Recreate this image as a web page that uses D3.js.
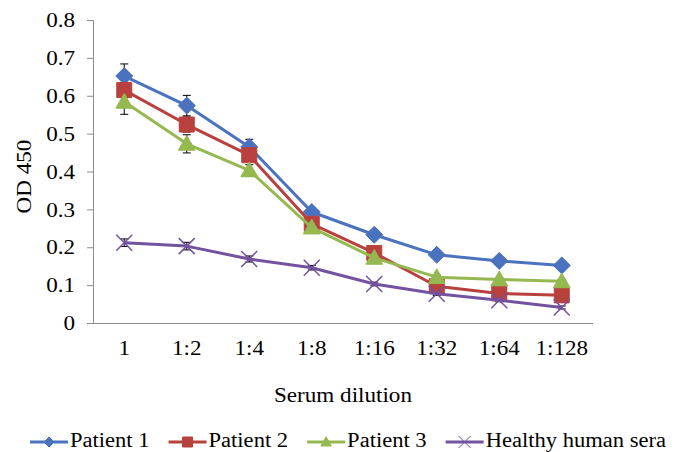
<!DOCTYPE html>
<meta charset="utf-8">
<script src="https://d3js.org/d3.v7.min.js"></script>
<style>
  body { margin: 0; background: #fff; }
</style>
<div id="my_dataviz"></div>
<script>

// data
var dilutions = ["1", "1:2", "1:4", "1:8", "1:16", "1:32", "1:64", "1:128"];
var yTicks = [0, 0.1, 0.2, 0.3, 0.4, 0.5, 0.6, 0.7, 0.8];

var patient1 = [0.652, 0.574, 0.465, 0.293, 0.233, 0.180, 0.164, 0.152];
var patient2 = [0.615, 0.524, 0.443, 0.262, 0.185, 0.097, 0.078, 0.073];
var patient3 = [0.584, 0.473, 0.403, 0.252, 0.172, 0.121, 0.115, 0.110];
var healthy  = [0.212, 0.203, 0.169, 0.146, 0.103, 0.077, 0.060, 0.041];

var err1 = [0.032, 0.027, 0.020, 0.012, 0.008, 0.006, 0.006, 0.005];
var err2 = [0.020, 0.020, 0.015, 0.010, 0.008, 0.005, 0.005, 0.004];
var err3 = [0.033, 0.024, 0.015, 0.010, 0.008, 0.006, 0.005, 0.005];
var errH = [0.010, 0.010, 0.008, 0.006, 0.005, 0.004, 0.004, 0.004];

var seriesNames = ["Patient 1", "Patient 2", "Patient 3", "Healthy human sera"];
var seriesColors = ["#4a72be", "#b8413e", "#95b950", "#7352a0"];
var seriesSymbols = ["diamond", "square", "triangle", "cross"];

var series = [
  {name: seriesNames[0], values: patient1, err: err1},
  {name: seriesNames[1], values: patient2, err: err2},
  {name: seriesNames[2], values: patient3, err: err3},
  {name: seriesNames[3], values: healthy,  err: errH}
];

var FONT = "'Liberation Serif', 'Times New Roman', serif";

// dimensions
var W = 693, H = 452;
var margin = {top: 20, right: 100, bottom: 129, left: 93},
    width = W - margin.left - margin.right,
    height = H - margin.top - margin.bottom;

var svg = d3.select("#my_dataviz")
  .append("svg")
    .attr("width", W)
    .attr("height", H)
    .style("font-family", FONT);

var g = svg.append("g")
    .attr("transform", "translate(" + margin.left + "," + margin.top + ")");

var x = d3.scaleBand()
  .domain(dilutions)
  .range([0, width]);

var y = d3.scaleLinear()
  .domain([0, 0.8])
  .range([height, 0]);

var axisColor = "#8c8c8c";

// serif text, slightly widened like the original picture
function styleText(sel, size) {
  sel.style("font-family", FONT)
    .style("font-size", size + "px")
    .attr("fill", "#000");
  sel.each(function() {
    var w = this.getComputedTextLength();
    d3.select(this).attr("textLength", w * 1.1).attr("lengthAdjust", "spacingAndGlyphs");
  });
}

// y axis
var yAxis = g.append("g")
  .call(d3.axisLeft(y).tickValues(yTicks).tickSize(6).tickPadding(12)
    .tickFormat(function(d) { return d === 0 ? "0" : d3.format(".1f")(d); }));
yAxis.attr("font-family", null);
yAxis.selectAll("path, line").attr("stroke", axisColor);
styleText(yAxis.selectAll("text"), 21);

// x axis
var xAxis = g.append("g")
  .attr("transform", "translate(0," + height + ")")
  .call(d3.axisBottom(x).tickSize(0).tickPadding(17));
xAxis.attr("font-family", null);
xAxis.select("path").attr("stroke", axisColor).attr("d", "M0,0.5H" + width);
styleText(xAxis.selectAll("text"), 21);

// axis titles
styleText(svg.append("text")
  .attr("x", margin.left + width / 2)
  .attr("y", 402)
  .attr("text-anchor", "middle")
  .text("Serum dilution"), 21);

styleText(svg.append("text")
  .attr("transform", "translate(31," + (margin.top + height / 2 + 5) + ") rotate(-90)")
  .attr("text-anchor", "middle")
  .text("OD 450"), 21);

// markers
function symbolPath(type, s) {
  if (type === "diamond") return "M0," + (-s) + "L" + s + ",0L0," + s + "L" + (-s) + ",0Z";
  if (type === "square") return "M" + (-s) + "," + (-s) + "H" + s + "V" + s + "H" + (-s) + "Z";
  if (type === "triangle") return "M0," + (-s * 1.05) + "L" + (s * 1.05) + "," + (s * 0.8) + "L" + (-s * 1.05) + "," + (s * 0.8) + "Z";
  return "M" + (-s) + "," + (-s) + "L" + s + "," + s + "M" + s + "," + (-s) + "L" + (-s) + "," + s;
}
var markerSize = [8.5, 7.5, 8, 8];

var line = d3.line()
  .x(function(d, i) { return x(dilutions[i]) + x.bandwidth() / 2; })
  .y(function(d) { return y(d); });

// error bars
series.forEach(function(s) {
  var eg = g.append("g");
  s.values.forEach(function(v, i) {
    var cx = x(dilutions[i]) + x.bandwidth() / 2;
    var y1 = y(v + s.err[i]), y2 = y(v - s.err[i]);
    eg.append("line").attr("x1", cx).attr("x2", cx).attr("y1", y1).attr("y2", y2)
      .attr("stroke", "#000").attr("stroke-width", 1);
    [y1, y2].forEach(function(yy) {
      eg.append("line").attr("x1", cx - 4).attr("x2", cx + 4).attr("y1", yy).attr("y2", yy)
        .attr("stroke", "#000").attr("stroke-width", 1);
    });
  });
});

// lines and markers
series.forEach(function(s, k) {
  g.append("path")
    .datum(s.values)
    .attr("fill", "none")
    .attr("stroke", seriesColors[k])
    .attr("stroke-width", 3)
    .attr("stroke-linejoin", "round")
    .attr("d", line);

  g.selectAll(".m" + k)
    .data(s.values)
    .enter()
    .append("path")
      .attr("class", "m" + k)
      .attr("transform", function(d, i) {
        return "translate(" + (x(dilutions[i]) + x.bandwidth() / 2) + "," + y(d) + ")";
      })
      .attr("d", symbolPath(seriesSymbols[k], markerSize[k]))
      .attr("fill", seriesSymbols[k] === "cross" ? "none" : seriesColors[k])
      .attr("stroke", seriesColors[k])
      .attr("stroke-width", seriesSymbols[k] === "cross" ? 1.5 : 1);
});

// legend
var legend = svg.append("g");
var lx = 30, ly = 442;
series.forEach(function(s, k) {
  var item = legend.append("g").attr("transform", "translate(" + lx + "," + ly + ")");
  item.append("line").attr("x1", 0).attr("x2", 38).attr("y1", 0).attr("y2", 0)
    .attr("stroke", seriesColors[k]).attr("stroke-width", 3);
  item.append("path")
    .attr("transform", "translate(19,0)")
    .attr("d", symbolPath(seriesSymbols[k], seriesSymbols[k] === "cross" ? 6 : 5))
    .attr("fill", seriesSymbols[k] === "cross" ? "none" : seriesColors[k])
    .attr("stroke", seriesColors[k])
    .attr("stroke-width", 1);
  var t = item.append("text")
    .attr("x", 40)
    .attr("y", 5)
    .text(s.name);
  styleText(t, 20.5);
  lx += 40 + (+t.attr("textLength")) + 19;
});

</script>
